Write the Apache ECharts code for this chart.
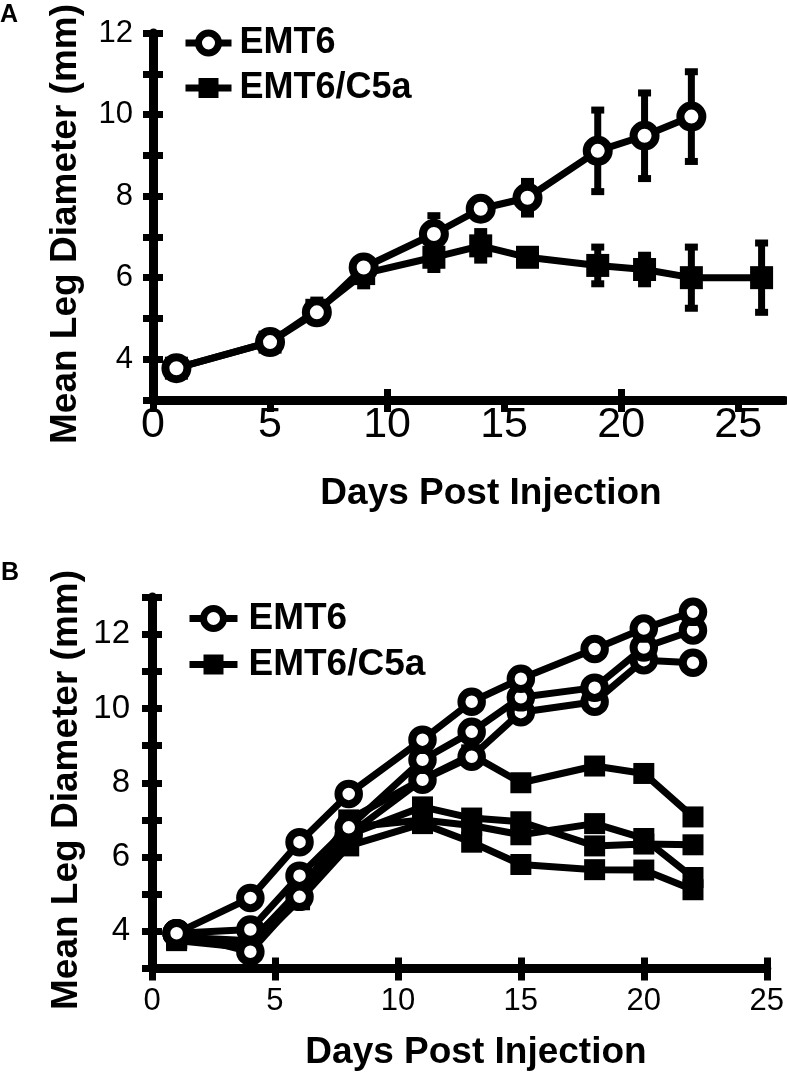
<!DOCTYPE html>
<html>
<head>
<meta charset="utf-8">
<script src="https://cdn.jsdelivr.net/npm/echarts@6/dist/echarts.min.js"></script>
<style>
html,body{margin:0;padding:0;background:#fff;}
#chart{width:787px;height:1074px;}
</style>
</head>
<body>
<div id="chart"></div>
<script>
// ---------- Panel A data ----------
const daysA_EMT6 = [1, 5, 7, 9, 12, 14, 16, 19, 21, 23];
const meanA_EMT6 = [3.78, 4.42, 5.15, 6.25, 7.07, 7.69, 7.96, 9.11, 9.48, 9.95];
const errA_EMT6  = [0, 0, 0, 0, 0.45, 0.2, 0.4, 1.0, 1.05, 1.1];

const daysA_C5a = [1, 5, 7, 9, 12, 14, 16, 19, 21, 23, 26];
const meanA_C5a = [3.78, 4.42, 5.2, 6.1, 6.5, 6.78, 6.5, 6.3, 6.2, 6.0, 6.0];
const errA_C5a  = [0, 0, 0.25, 0.3, 0.3, 0.35, 0.15, 0.45, 0.35, 0.75, 0.85];

// ---------- Panel B data (individual mice) ----------
const daysB = [1, 4, 6, 8, 11, 13, 15, 18, 20, 22];
const B_EMT6_1 = [3.95, 4.9, 6.4, 7.7, 9.16, 10.18, 10.8, 11.6, 12.15, 12.6];
const B_EMT6_2 = [3.95, 4.05, 5.5, 6.8, 8.62, 9.37, 10.3, 10.56, 11.64, 12.1];
const B_EMT6_3 = [3.95, 3.45, 4.93, 6.6, 8.08, 8.7, 9.9, 10.18, 11.3, 11.23];
const B_C5a_1 = [3.85, 3.75, 5.0, 7.0, 8.1, 8.75, 8.0, 8.45, 8.25, 7.08];
const B_C5a_2 = [3.8, 3.6, 4.9, 6.6, 7.35, 7.05, 6.95, 6.3, 6.35, 6.33];
const B_C5a_3 = [3.8, 3.7, 5.1, 6.8, 7.0, 6.85, 6.6, 6.9, 6.5, 5.45];
const B_C5a_4 = [3.75, 3.55, 4.85, 6.3, 6.9, 6.4, 5.8, 5.66, 5.65, 5.12];

// ---------- Tick labels ----------
const xTicksA = [0, 5, 10, 15, 20, 25];
const xInnerTicksA = [10, 20];
const yTicksA = [3, 4, 5, 6, 7, 8, 9, 10, 11, 12];
const yLabelsA = [4, 6, 8, 10, 12];
const xTicksB = [0, 5, 10, 15, 20, 25];
const yTicksB = [3, 4, 5, 6, 7, 8, 9, 10, 11, 12, 13];
const yLabelsB = [4, 6, 8, 10, 12];

const seriesNames = ['EMT6', 'EMT6/C5a'];
const yTitle = 'Mean Leg Diameter (mm)';
const xTitle = 'Days Post Injection';

const FONT = "'Liberation Sans', Arial, Helvetica, sans-serif";
const NARROW = "'Liberation Sans Narrow', 'Arial Narrow', 'Liberation Sans', sans-serif";

const chart = echarts.init(document.getElementById('chart'), null, {renderer: 'canvas'});

function zip(xs, ys, es) {
  return xs.map((x, i) => es ? [x, ys[i], es[i]] : [x, ys[i]]);
}

function errRender(params, api) {
  const x = api.value(0), y = api.value(1), e = api.value(2);
  if (!e) return null;
  const p1 = api.coord([x, y + e]);
  const p2 = api.coord([x, y - e]);
  const cw = 6.5;
  const style = {stroke: '#000', lineWidth: 7, fill: null};
  return {
    type: 'group',
    children: [
      {type: 'line', shape: {x1: p1[0], y1: p1[1], x2: p2[0], y2: p2[1]}, style: style},
      {type: 'line', shape: {x1: p1[0] - cw, y1: p1[1], x2: p1[0] + cw, y2: p1[1]}, style: style},
      {type: 'line', shape: {x1: p2[0] - cw, y1: p2[1], x2: p2[0] + cw, y2: p2[1]}, style: style}
    ]
  };
}

const axisLineStyle = {color: '#000', width: 9};

function mkX(grid, min, max, ticks, inside, labels, labelFont, labelSize, labelMargin) {
  return {
    type: 'value', gridIndex: grid, min: min, max: max, position: 'bottom',
    axisLine: {show: !inside, onZero: false, lineStyle: axisLineStyle},
    axisTick: {show: true, inside: inside, length: inside ? 11 : 12, customValues: ticks,
               lineStyle: {color: '#000', width: 7}},
    axisLabel: labels ? {show: true, customValues: labels, color: '#000', fontFamily: labelFont,
               fontSize: labelSize, margin: labelMargin} : {show: false},
    splitLine: {show: false}
  };
}
function mkY(grid, min, max, ticks, inside, labels, labelFont, labelSize, labelMargin) {
  return {
    type: 'value', gridIndex: grid, min: min, max: max, position: 'left',
    axisLine: {show: !inside, onZero: false, lineStyle: axisLineStyle},
    axisTick: {show: true, inside: inside, length: 10, customValues: ticks,
               lineStyle: {color: '#000', width: 7}},
    axisLabel: labels ? {show: true, customValues: labels, color: '#000', fontFamily: labelFont,
               fontSize: labelSize, margin: labelMargin} : {show: false},
    splitLine: {show: false}
  };
}

function lineSeries(name, xi, yi, data, isCircle, symSize, z) {
  return {
    name: name, type: 'line', xAxisIndex: xi, yAxisIndex: yi, data: data,
    symbol: isCircle ? 'circle' : 'rect', symbolSize: symSize, showSymbol: true,
    color: '#000',
    lineStyle: {color: '#000', width: 7},
    itemStyle: isCircle ? {color: '#fff', borderColor: '#000', borderWidth: 8}
                        : {color: '#000', borderColor: '#000', borderWidth: 0},
    z: z, animation: false, silent: true
  };
}
function errSeries(xi, yi, data, z) {
  return {
    type: 'custom', xAxisIndex: xi, yAxisIndex: yi, data: data,
    renderItem: errRender, encode: {x: 0, y: 1}, z: z, silent: true, animation: false
  };
}

const series = [
  // Panel A
  errSeries(0, 0, zip(daysA_C5a, meanA_C5a, errA_C5a), 2),
  lineSeries(seriesNames[1], 0, 0, zip(daysA_C5a, meanA_C5a), false, 23, 3),
  errSeries(0, 0, zip(daysA_EMT6, meanA_EMT6, errA_EMT6), 4),
  lineSeries(seriesNames[0], 0, 0, zip(daysA_EMT6, meanA_EMT6), true, 22, 5),
  // Panel B
  lineSeries(seriesNames[1], 2, 2, zip(daysB, B_C5a_1), false, 21, 3),
  lineSeries(seriesNames[1], 2, 2, zip(daysB, B_C5a_2), false, 21, 3),
  lineSeries(seriesNames[1], 2, 2, zip(daysB, B_C5a_3), false, 21, 3),
  lineSeries(seriesNames[1], 2, 2, zip(daysB, B_C5a_4), false, 21, 3),
  lineSeries(seriesNames[0], 2, 2, zip(daysB, B_EMT6_3), true, 20.5, 5),
  lineSeries(seriesNames[0], 2, 2, zip(daysB, B_EMT6_2), true, 20.5, 5),
  lineSeries(seriesNames[0], 2, 2, zip(daysB, B_EMT6_1), true, 20.5, 5)
];

const legendText = {color: '#000', fontFamily: FONT, fontWeight: 'bold', fontSize: 36, padding: [0, 0, 0, 3]};
const legendItems = [
  {name: seriesNames[0], itemStyle: {color: '#fff', borderColor: '#000', borderWidth: 7},
   lineStyle: {color: '#000', width: 7, opacity: 1}},
  {name: seriesNames[1], itemStyle: {color: '#000', borderColor: '#000', borderWidth: 0},
   lineStyle: {color: '#000', width: 7, opacity: 1}}
];

const option = {
  backgroundColor: '#fff',
  animation: false,
  grid: [
    {left: 153, top: 33, width: 632, height: 367},
    {left: 152, top: 597, width: 625, height: 371.5}
  ],
  xAxis: [
    mkX(0, 0, 27, xTicksA, false, xTicksA, NARROW, 43, 4),
    mkX(0, 0, 27, xInnerTicksA, true, null),
    mkX(1, 0, 25, xTicksB, false, xTicksB, FONT, 31, 17),
    mkX(1, 0, 25, xTicksB, true, null)
  ],
  yAxis: [
    mkY(0, 3, 12, yTicksA, false, yLabelsA, FONT, 31, 20),
    mkY(0, 3, 12, yTicksA, true, null),
    mkY(1, 3, 13, yTicksB, false, yLabelsB, NARROW, 33, 22),
    mkY(1, 3, 13, yTicksB, true, null)
  ],
  legend: [
    {left: 182, top: 25, orient: 'vertical', padding: 0, itemGap: 9, itemWidth: 46, itemHeight: 25,
     data: legendItems, textStyle: legendText, selectedMode: false},
    {left: 186, top: 600, orient: 'vertical', padding: 0, itemGap: 9, itemWidth: 48, itemHeight: 25,
     data: legendItems, textStyle: Object.assign({}, legendText, {fontSize: 37, padding: [0, 0, 0, 6]}),
     selectedMode: false}
  ],
  graphic: [
    {type: 'text', left: 0, top: 3, style: {text: 'A', font: 'bold 25px ' + FONT, fill: '#000'}},
    {type: 'text', left: 1, top: 561, style: {text: 'B', font: 'bold 25px ' + FONT, fill: '#000'}},
    {type: 'text', x: 66, y: 224, rotation: Math.PI / 2,
     style: {text: yTitle, font: 'bold 37px ' + FONT, fill: '#000', align: 'center', verticalAlign: 'middle'}},
    {type: 'text', x: 67, y: 790, rotation: Math.PI / 2,
     style: {text: yTitle, font: 'bold 37px ' + FONT, fill: '#000', align: 'center', verticalAlign: 'middle'}},
    {type: 'text', x: 491, y: 494,
     style: {text: xTitle, font: 'bold 37px ' + FONT, fill: '#000', align: 'center', verticalAlign: 'middle'}},
    {type: 'text', x: 476, y: 1053,
     style: {text: xTitle, font: 'bold 37px ' + FONT, fill: '#000', align: 'center', verticalAlign: 'middle'}}
  ],
  series: series
};

chart.setOption(option);
</script>
</body>
</html>
